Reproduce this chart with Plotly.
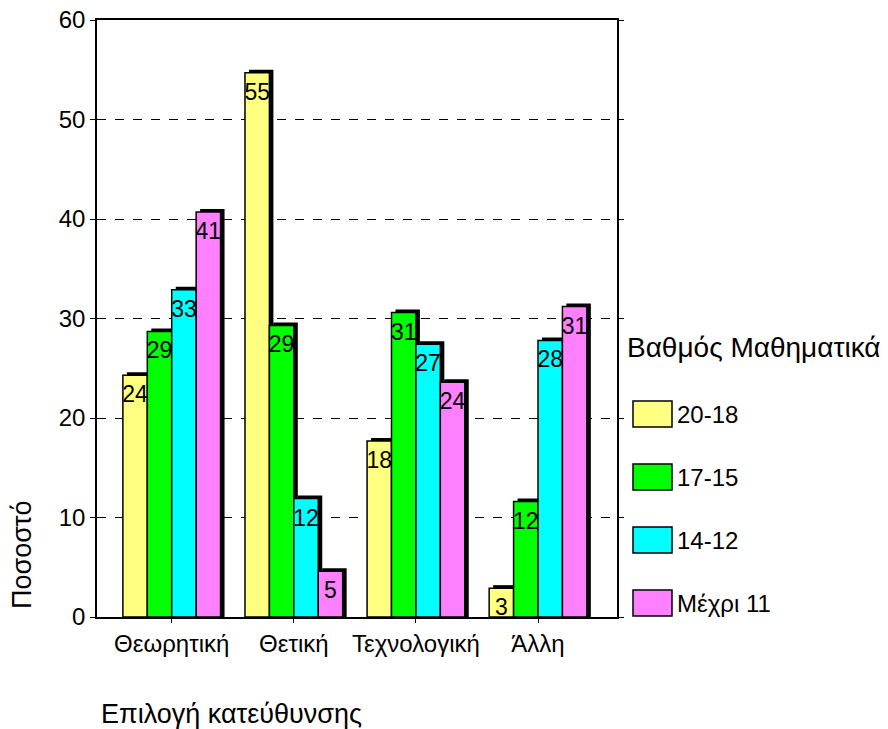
import plotly.graph_objects as go

categories = ["Θεωρητική", "Θετική", "Τεχνολογική", "Άλλη"]
series_names = ["20-18", "17-15", "14-12", "Μέχρι 11"]
v_20_18 = [24.3, 54.7, 17.7, 2.9]
v_17_15 = [28.7, 29.3, 30.6, 11.6]
v_14_12 = [32.9, 11.9, 27.4, 27.8]
v_max_11 = [40.7, 4.6, 23.6, 31.2]
series_values = [v_20_18, v_17_15, v_14_12, v_max_11]
colors = ["#FFFF80", "#00FF00", "#00FFFF", "#FF80FF"]
y_ticks = [0, 10, 20, 30, 40, 50, 60]

W, H = 888, 729
PL, PR, PT, PB = 97, 617, 20, 617          # plot box in page coords
L, R, T, B = PL, W - PR, PT, H - PB
PW, PH = PR - PL, PB - PT

FONT = "Liberation Sans, Arial, sans-serif"
bar_w = 0.2
x_range = [-0.612, 3.647]
px_per_x = PW / (x_range[1] - x_range[0])
px_per_y = PH / 60.0
dx = 4 / px_per_x
dy = 3 / px_per_y

def px(xp):
    return (xp - PL) / PW

def py(yp):
    return (PB - yp) / PH

fig = go.Figure()
idx = list(range(len(categories)))
for k, (name, vals, col) in enumerate(zip(series_names, series_values, colors)):
    off = -0.4 + k * bar_w
    fig.add_trace(go.Bar(
        x=idx, y=[v + dy for v in vals], offset=off + dx, width=bar_w,
        marker=dict(color="black", line=dict(width=0)),
        showlegend=False, hoverinfo="skip"))
    fig.add_trace(go.Bar(
        x=idx, y=vals, offset=off, width=bar_w, name=name,
        marker=dict(color=col, line=dict(color="black", width=1.5)),
        showlegend=False))
for k, vals in enumerate(series_values):
    off = -0.4 + k * bar_w
    fig.add_trace(go.Scatter(
        x=[i + off + bar_w / 2 for i in idx], y=vals,
        mode="markers+text", text=[str(round(v)) for v in vals],
        textposition="bottom center",
        marker=dict(size=14, opacity=0),
        textfont=dict(family=FONT, size=23, color="black"),
        showlegend=False, hoverinfo="skip", cliponaxis=False))

fig.update_layout(
    width=W, height=H, barmode="overlay",
    margin=dict(l=L, r=R, t=T, b=B, autoexpand=False),
    plot_bgcolor="white", paper_bgcolor="white",
    font=dict(family=FONT, color="black"),
    showlegend=False,
    xaxis=dict(range=x_range, tickvals=idx, ticktext=categories,
               showgrid=False, zeroline=False, showline=True, linecolor="black",
               linewidth=1.5, mirror=True, ticks="outside", ticklen=4,
               tickcolor="black", tickfont=dict(family=FONT, size=24)),
    yaxis=dict(range=[0, 60], tickvals=y_ticks, showgrid=True,
               gridcolor="black", griddash="dash", gridwidth=1,
               zeroline=False, showline=True, linecolor="black", linewidth=1.5,
               mirror="ticks", ticks="outside", ticklen=5, tickcolor="black",
               ticklabeloverflow="allow",
               tickfont=dict(family=FONT, size=24)),
)

annotations = [
    dict(text="Ποσοστό", x=px(22), y=py(555), xref="paper", yref="paper",
         textangle=-90, showarrow=False, font=dict(family=FONT, size=27),
         xanchor="center", yanchor="middle"),
    dict(text="Επιλογή κατεύθυνσης", x=px(99), y=py(714), xref="paper", yref="paper",
         showarrow=False, font=dict(family=FONT, size=27),
         xanchor="left", yanchor="middle"),
    dict(text="Βαθμός Μαθηματικά", x=px(625), y=py(347), xref="paper", yref="paper",
         showarrow=False, font=dict(family=FONT, size=28),
         xanchor="left", yanchor="middle"),
]
shapes = []
leg_y = [414, 477, 540, 603]
for name, col, yc in zip(series_names, colors, leg_y):
    shapes.append(dict(type="rect", xref="paper", yref="paper",
                       x0=px(633), x1=px(672), y0=py(yc + 13), y1=py(yc - 13),
                       fillcolor=col, line=dict(color="black", width=1.5)))
    annotations.append(dict(text=name, x=px(675), y=py(yc), xref="paper", yref="paper",
                            showarrow=False, font=dict(family=FONT, size=24),
                            xanchor="left", yanchor="middle"))
fig.update_layout(annotations=annotations, shapes=shapes)

fig.write_html("out.html", config={"displayModeBar": False},
               post_script="document.body.style.margin='0';document.body.style.overflow='hidden';")
